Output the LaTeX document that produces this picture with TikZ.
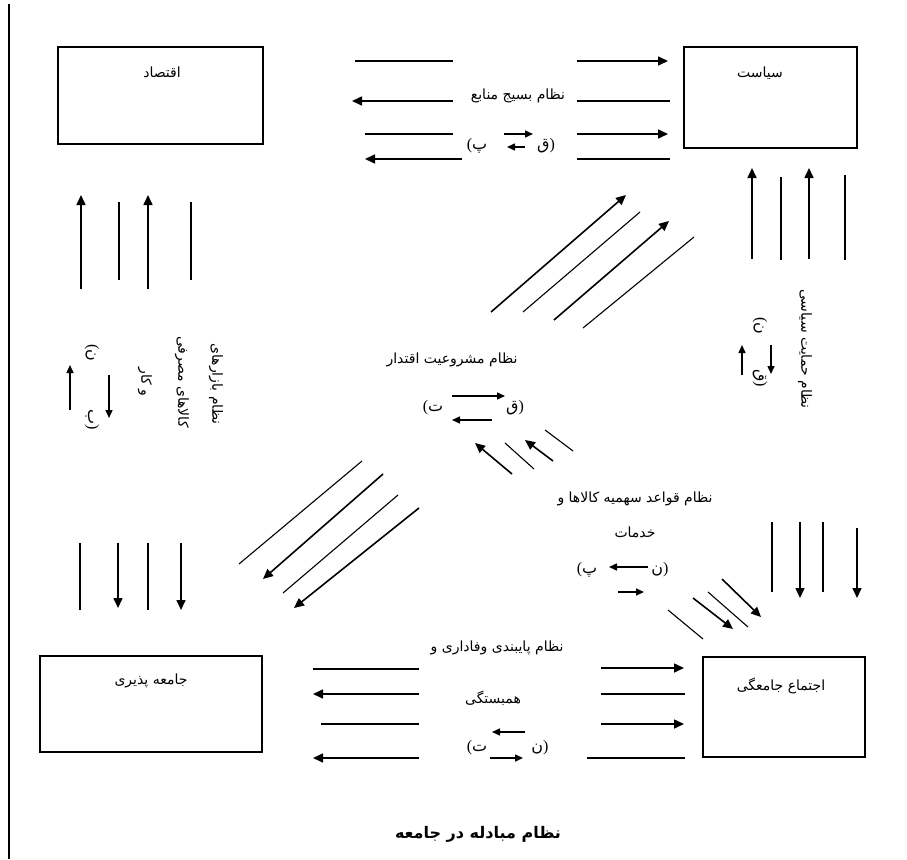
\documentclass[tikz,border=0pt]{standalone}
\usepackage{fontspec}
\usetikzlibrary{arrows.meta}
\TeXXeTstate=1
\newfontfamily\fa[Script=Arabic]{DejaVu Sans}
\newfontfamily\pf{Liberation Serif}
\newcommand\seg[4]{\coordinate (#1-s) at (#3); \coordinate (#1-e) at (#4); \draw[#2] (#1-s) -- (#1-e);}
\begin{document}
\begin{tikzpicture}[x=1pt,y=-1pt,
  box/.style={draw, line width=1.6pt, inner sep=0},
  fa/.style={font=\fa\fontsize{14}{16}\selectfont, inner sep=1pt},
  pl/.style={font=\fontsize{16}{18}\selectfont, inner sep=0pt},
  ln/.style={line width=1.1pt},
  ar/.style={line width=1.6pt, -{Triangle[length=10pt,width=9pt]}},
  sar/.style={line width=1.5pt, -{Triangle[length=8pt,width=7pt]}},
]
\useasboundingbox (0,0) rectangle (907,859);
% left border
\seg{border}{line width=2.6pt}{9,4}{9,859}
% boxes
\node[box, minimum width=205pt, minimum height=97pt] (econ) at (160.5,95.5) {};
\node[box, minimum width=173pt, minimum height=101pt] (pol) at (770.5,97.5) {};
\node[box, minimum width=222pt, minimum height=96pt] (soc) at (151,704) {};
\node[box, minimum width=162pt, minimum height=100pt] (comm) at (784,707) {};
\node[fa] (econL) at (162,72) {\beginR اقتصاد\endR};
\node[fa] (polL) at (760,73) {\beginR سیاست\endR};
\node[fa] (socL) at (151,681) {\beginR جامعه پذیری\endR};
\node[fa] (commL) at (781,686) {\beginR اجتماع جامعگی\endR};
% top middle
\seg{tl1}{ln}{355,61}{453,61}
\seg{tl2}{ar}{453,101}{352,101}
\seg{tl3}{ln}{365,134}{453,134}
\seg{tl4}{ar}{462,159}{365,159}
\seg{tr1}{ar}{577,61}{668,61}
\seg{tr2}{ln}{577,101}{670,101}
\seg{tr3}{ar}{577,134}{668,134}
\seg{tr4}{ln}{577,159}{670,159}
\node[fa] (topT) at (518,96) {\beginR نظام بسیج منابع\endR};
\node[pl] (topQ) at (546,146) {{\fa ق}{\pf)}};
\node[pl] (topP) at (477,146) {{\pf(}{\fa پ}};
\seg{ts1}{sar}{504,134}{533,134}
\seg{ts2}{sar}{525,147}{507,147}
% right vertical
\seg{rv1}{ar}{752,259}{752,168}
\seg{rv2}{ln}{781,177}{781,260}
\seg{rv3}{ar}{809,259}{809,168}
\seg{rv4}{ln}{845,175}{845,260}
\node[fa, rotate=-90] (rvT) at (805,349) {\beginR نظام حمایت سیاسی\endR};
\node[pl, rotate=-90] (rvN) at (760,326) {{\pf(}{\fa ن}};
\node[pl, rotate=-90] (rvQ) at (760,378) {{\fa ق}{\pf)}};
\seg{rs1}{sar}{742,375}{742,345}
\seg{rs2}{sar}{771,345}{771,374}
% left vertical
\seg{lv1}{ar}{81,289}{81,195}
\seg{lv2}{ln}{119,202}{119,280}
\seg{lv3}{ar}{148,289}{148,195}
\seg{lv4}{ln}{191,202}{191,280}
\node[fa, rotate=-90] (lvT1) at (216,384) {\beginR نظام بازارهای\endR};
\node[fa, rotate=-90] (lvT2) at (182,382) {\beginR کالاهای مصرفی\endR};
\node[fa, rotate=-90] (lvT3) at (145,382) {\beginR و کار\endR};
\node[pl, rotate=-90] (lvN) at (92,353) {{\pf(}{\fa ن}};
\node[pl, rotate=-90] (lvB) at (92,420) {{\fa ب}{\pf)}};
\seg{ls1}{sar}{70,410}{70,365}
\seg{ls2}{sar}{109,375}{109,418}
% diagonal up-right
\seg{du1}{ar}{491,312}{626,195}
\seg{du2}{ln}{523,312}{640,212}
\seg{du3}{ar}{554,320}{669,221}
\seg{du4}{ln}{583,328}{694,237}
% center
\node[fa] (cenT) at (452,360) {\beginR نظام مشروعیت اقتدار\endR};
\node[pl] (cenQ) at (515,408) {{\fa ق}{\pf)}};
\node[pl] (cenT2) at (433,408) {{\pf(}{\fa ت}};
\seg{cs1}{sar}{452,396}{505,396}
\seg{cs2}{sar}{492,420}{452,420}
\seg{cd1}{ar}{512,474}{475,443}
\seg{cd2}{ln}{505,443}{534,469}
\seg{cd3}{ar}{553,461}{525,440}
\seg{cd4}{ln}{545,430}{573,451}
% diagonal down-left
\seg{dl1}{ln}{239,564}{362,461}
\seg{dl2}{ar}{383,474}{263,579}
\seg{dl3}{ln}{283,593}{398,495}
\seg{dl4}{ar}{419,508}{294,608}
% right lower
\node[fa] (rlT1) at (635,499) {\beginR نظام قواعد سهمیه کالاها و\endR};
\node[fa] (rlT2) at (635,532) {\beginR خدمات\endR};
\node[pl] (rlN) at (660,570) {{\fa ن}{\pf)}};
\node[pl] (rlP) at (587,570) {{\pf(}{\fa پ}};
\seg{rls1}{sar}{648,567}{609,567}
\seg{rls2}{sar}{618,592}{644,592}
\seg{dr1}{ln}{668,610}{703,639}
\seg{dr2}{ar}{693,598}{733,629}
\seg{dr3}{ln}{708,592}{748,627}
\seg{dr4}{ar}{722,579}{761,617}
\seg{rd1}{ln}{772,522}{772,592}
\seg{rd2}{ar}{800,522}{800,598}
\seg{rd3}{ln}{823,522}{823,592}
\seg{rd4}{ar}{857,528}{857,598}
% left lower
\seg{ld1}{ln}{80,543}{80,610}
\seg{ld2}{ar}{118,543}{118,608}
\seg{ld3}{ln}{148,543}{148,610}
\seg{ld4}{ar}{181,543}{181,610}
% bottom middle
\node[fa] (bT1) at (497,648) {\beginR نظام پایبندی وفاداری و\endR};
\node[fa] (bT2) at (493,698) {\beginR همبستگی\endR};
\seg{bl1}{ln}{313,669}{419,669}
\seg{bl2}{ar}{419,694}{313,694}
\seg{bl3}{ln}{321,724}{419,724}
\seg{bl4}{ar}{419,758}{313,758}
\seg{br1}{ar}{601,668}{684,668}
\seg{br2}{ln}{601,694}{685,694}
\seg{br3}{ar}{601,724}{684,724}
\seg{br4}{ln}{587,758}{685,758}
\seg{bs1}{sar}{525,732}{492,732}
\seg{bs2}{sar}{490,758}{523,758}
\node[pl] (bN) at (540,748) {{\fa ن}{\pf)}};
\node[pl] (bTt) at (477,748) {{\pf(}{\fa ت}};
% title
\node[font=\fa\bfseries\fontsize{16}{18}\selectfont] (title) at (478,834) {\beginR نظام مبادله در جامعه\endR};
\end{tikzpicture}
\end{document}
